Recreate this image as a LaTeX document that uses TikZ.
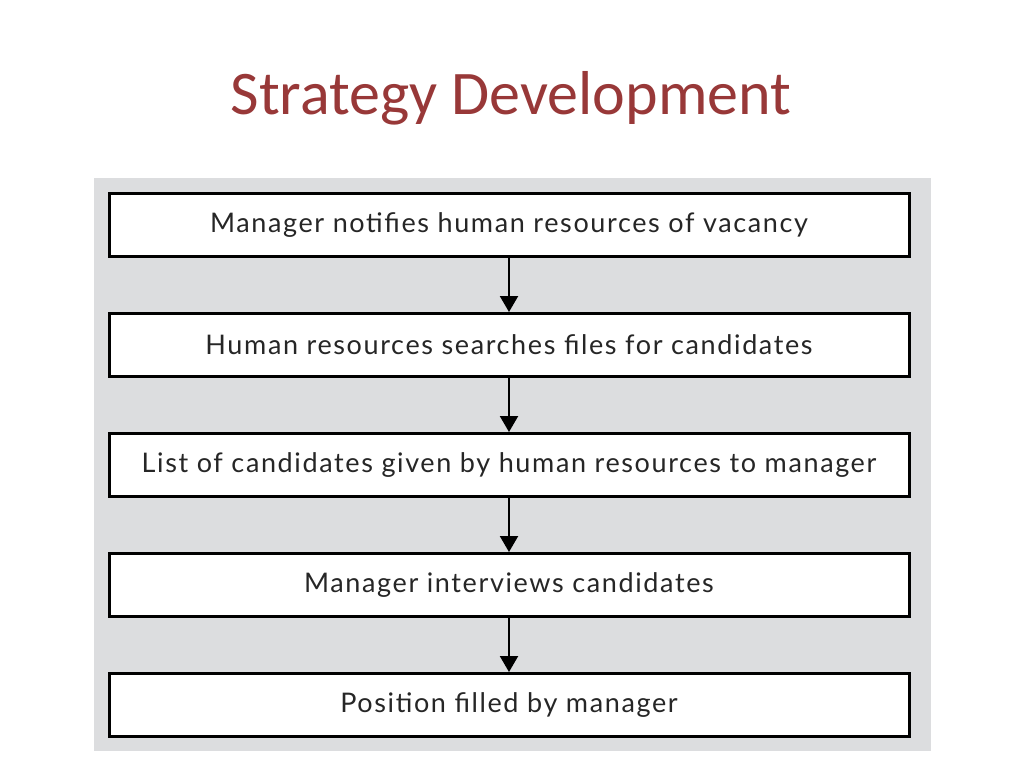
\documentclass[tikz,border=0pt]{standalone}
\usepackage{fontspec}
\setmainfont{Lato}[LetterSpace=6]
\newfontfamily\titlefont{Carlito}
\usetikzlibrary{positioning, arrows.meta}
\definecolor{titlered}{RGB}{152,56,56}
\definecolor{panelgray}{RGB}{220,221,223}
\tikzset{
    stepbox/.style={draw, line width=3pt, fill=white, minimum width=800pt, minimum height=63pt, inner sep=0pt, text=black!85, font=\fontsize{27}{30}\selectfont},
    flow/.style={-{Triangle[length=16pt, width=18pt]}, line width=2.2pt}
}

\begin{document}
\begin{tikzpicture}[x=1pt, y=-1pt]
    \useasboundingbox (0, 0) rectangle (1024, 768);
    \fill [panelgray] (94, 178) rectangle (931, 751);
    \node (title) at (511, 98) {\titlefont\fontsize{62}{70}\selectfont\color{titlered}Strategy Development};
    \node (notify) [stepbox] at (509, 225) {Manager notifies human resources of vacancy};
    \node (search) [stepbox, below=54pt of notify] {Human resources searches files for candidates};
    \node (list) [stepbox, below=54pt of search] {List of candidates given by human resources to manager};
    \node (interview) [stepbox, below=54pt of list] {Manager interviews candidates};
    \node (filled) [stepbox, below=54pt of interview] {Position filled by manager};
    \draw [flow] (notify) -- (search);
    \draw [flow] (search) -- (list);
    \draw [flow] (list) -- (interview);
    \draw [flow] (interview) -- (filled);
\end{tikzpicture}
\end{document}
